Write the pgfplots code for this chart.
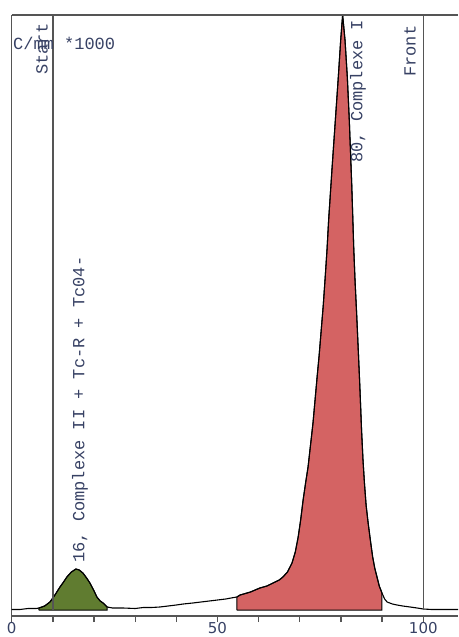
\documentclass[border=0pt]{standalone}
\usepackage{fontspec}
\usepackage{pgfplots}
\pgfplotsset{compat=1.18}
\newfontfamily\dejavu{DejaVu Sans}
\newfontfamily\mono{Liberation Mono}
\definecolor{txt}{RGB}{55,65,100}
\definecolor{grn}{RGB}{96,124,48}
\definecolor{redf}{RGB}{212,99,99}
\definecolor{frame}{RGB}{85,85,85}
\begin{document}
\begin{tikzpicture}
\begin{axis}[
  scale only axis,
  width=446.3pt, height=601pt,
  xmin=0, xmax=108.43, ymin=-6, ymax=595,
  axis x line*=bottom, axis y line*=left,
  x axis line style={-, frame, line width=1.4pt},
  y axis line style={-, frame, line width=1.4pt},
  ytick=\empty,
  xtick={0,50,100},
  minor xtick={10,20,30,40,60,70,80,90},
  xtick align=outside,
  major tick length=6pt, minor tick length=6pt,
  every tick/.style={frame, line width=1.3pt},
  /pgf/number format/assume math mode=true,
  xticklabel style={font=\dejavu\fontsize{15}{18}\selectfont, text=txt, inner sep=1pt, yshift=1pt},
  clip=false,
]
\coordinate (bl) at (rel axis cs:0,0);
\coordinate (tr) at (rel axis cs:1,1);
% green area
\addplot[fill=grn, draw=black, line width=1pt] coordinates {
(6.63,0) (6.63,2) (8,4) (9.3,8) (10.5,15) (11.73,23) (12.6,28) (13.4,33) (14.5,38) (15.6,41) (16.4,40) (17.3,37) (18.2,32) (19.0,27) (19.9,20) (20.7,13) (21.5,9) (22.2,7) (23.2,3) (23.2,0) (6.63,0)
};
% red area
\addplot[fill=redf, draw=black, line width=1pt] coordinates {
(54.7,0) (54.7,13) (55.5,15) (58,18) (60.3,22) (62,24) (63.5,27) (65,30) (65.9,33) (67,38) (68.1,47) (68.9,58) (69.6,73) (70.2,90) (70.8,110) (71.4,127) (72.0,143) (72.6,165) (73.2,187) (73.7,210) (74.2,233) (74.7,255) (75.2,280) (75.7,305) (76.2,335) (76.6,360) (77.0,390) (77.4,415) (77.8,440) (78.3,470) (78.8,500) (79.35,533) (79.93,570) (80.4,595) (80.98,570) (81.54,533) (82.02,490) (82.36,453) (82.6,427) (82.85,395) (83.1,362) (83.41,330) (83.82,295) (84.2,260) (84.6,222) (85.0,180) (85.35,150) (85.7,127) (86.1,105) (86.6,87) (87.2,68) (87.7,53) (88.2,42) (88.75,33) (89.3,24) (89.96,17) (89.96,0) (54.7,0)
};
% full trace
\addplot[black, line width=1.1pt] coordinates {
(0,0.5) (2,0.5) (4,1.5) (6,1.5) (6.63,2) (8,4) (9.3,8) (10.5,15) (11.73,23) (12.6,28) (13.4,33) (14.5,38) (15.6,41) (16.4,40) (17.3,37) (18.2,32) (19.0,27) (19.9,20) (20.7,13) (21.5,9) (22.2,7) (23.2,3) (24.5,2) (27,2) (30,1.5) (32,2.5) (34,2.5) (36,3) (38,4) (40,5) (41.7,6) (44,7) (46,8) (48,9) (50,10) (52,11) (53.3,12) (54.7,13) (55.5,15) (58,18) (60.3,22) (62,24) (63.5,27) (65,30) (65.9,33) (67,38) (68.1,47) (68.9,58) (69.6,73) (70.2,90) (70.8,110) (71.4,127) (72.0,143) (72.6,165) (73.2,187) (73.7,210) (74.2,233) (74.7,255) (75.2,280) (75.7,305) (76.2,335) (76.6,360) (77.0,390) (77.4,415) (77.8,440) (78.3,470) (78.8,500) (79.35,533) (79.93,570) (80.4,595) (80.98,570) (81.54,533) (82.02,490) (82.36,453) (82.6,427) (82.85,395) (83.1,362) (83.41,330) (83.82,295) (84.2,260) (84.6,222) (85.0,180) (85.35,150) (85.7,127) (86.1,105) (86.6,87) (87.2,68) (87.7,53) (88.2,42) (88.75,33) (89.3,24) (89.96,17) (90.6,11) (91.2,8) (92.5,6) (93.6,5) (95,4) (96.8,3) (98.5,2) (100,1) (102,0.5) (105,0.5) (108.43,0.5)
};
% start / front lines
\addplot[frame, line width=1.3pt] coordinates {(10,0) (10,595)};
\addplot[frame, line width=1.3pt] coordinates {(100,0) (100,595)};
\draw[frame, line width=1.6pt] (rel axis cs:0,1) -- (rel axis cs:1,1);
% labels
\node[rotate=90, anchor=west, inner sep=0pt, text=txt, font=\mono\fontsize{17}{20}\selectfont] at (axis cs:7.36,535) {Start};
\node[rotate=90, anchor=west, inner sep=0pt, text=txt, font=\mono\fontsize{17}{20}\selectfont] at (axis cs:96.8,533) {Front};
\node[rotate=90, anchor=west, inner sep=0pt, text=txt, font=\mono\fontsize{17}{20}\selectfont] at (axis cs:84.1,447) {80, Complexe I};
\node[rotate=90, anchor=west, inner sep=0pt, text=txt, font=\mono\fontsize{17}{20}\selectfont] at (axis cs:16.6,47) {16, Complexe II + Tc-R + Tc04-};
\node[anchor=west, inner sep=0pt, text=txt, font=\mono\fontsize{17}{20}\selectfont] at (axis cs:0.3,567) {C/mm *1000};
\end{axis}
\pgfresetboundingbox
\path ([xshift=-11.7pt,yshift=-21pt]bl) rectangle ([yshift=15pt]tr);
\end{tikzpicture}
\end{document}
